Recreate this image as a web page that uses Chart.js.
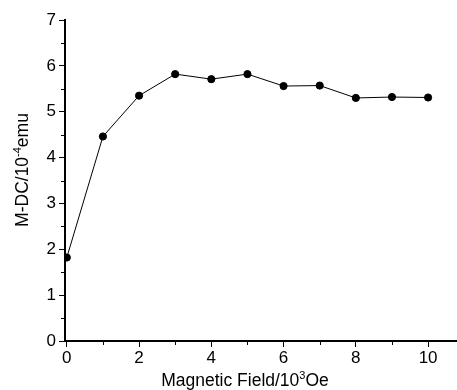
<!DOCTYPE html>
<html>
<head>
<meta charset="utf-8">
<script src="https://cdn.jsdelivr.net/npm/chart.js@4"></script>
<style>
  html, body { margin: 0; padding: 0; background: #fff; overflow: hidden; }
  #wrap { width: 457px; height: 390px; }
</style>
</head>
<body>
<div id="wrap"><canvas id="myChart"></canvas></div>
<script>
let field = [0, 1, 2, 3, 4, 5, 6, 7, 8, 9, 10];
let mdc = [1.82, 4.46, 5.35, 5.82, 5.71, 5.82, 5.56, 5.57, 5.30, 5.32, 5.31];
let xTicks = [0, 1, 2, 3, 4, 5, 6, 7, 8, 9, 10];
let yTicks = [0, 0.5, 1, 1.5, 2, 2.5, 3, 3.5, 4, 4.5, 5, 5.5, 6, 6.5, 7];

let fontFamily = "'Liberation Sans', Arial, sans-serif";

// short minor ticks, drawn from the scales' own tick positions
const minorTicks = {
    id: 'minorTicks',
    afterDraw(chart) {
        const ctx = chart.ctx;
        const xs = chart.scales.x, ys = chart.scales.y;
        ctx.save();
        ctx.strokeStyle = '#000';
        ctx.lineWidth = 1;
        ctx.beginPath();
        xs.ticks.forEach(t => {
            if (t.value % 2 !== 0) {
                let px = Math.round(xs.getPixelForValue(t.value)) + 0.5;
                ctx.moveTo(px, xs.top);
                ctx.lineTo(px, xs.top + 4);
            }
        });
        ys.ticks.forEach(t => {
            if (!Number.isInteger(t.value)) {
                let py = Math.round(ys.getPixelForValue(t.value)) + 0.5;
                ctx.moveTo(ys.right, py);
                ctx.lineTo(ys.right - 4, py);
            }
        });
        ctx.stroke();
        ctx.restore();
    }
};

// axis titles with real superscripts
function drawParts(ctx, parts, x, y) {
    let total = 0;
    parts.forEach(p => {
        ctx.font = (p.sup ? '11px ' : '17.5px ') + fontFamily;
        p.w = ctx.measureText(p.t).width;
        total += p.w;
    });
    let cx = x - total / 2;
    parts.forEach(p => {
        ctx.font = (p.sup ? '11px ' : '17.5px ') + fontFamily;
        ctx.fillText(p.t, cx, p.sup ? y - 7 : y);
        cx += p.w;
    });
}

const axisTitles = {
    id: 'axisTitles',
    afterDraw(chart) {
        const ctx = chart.ctx;
        ctx.save();
        ctx.fillStyle = '#000';
        ctx.textBaseline = 'alphabetic';
        ctx.textAlign = 'left';
        drawParts(ctx, [{t: 'Magnetic Field/10'}, {t: '3', sup: true}, {t: 'Oe'}], 245, 386);
        ctx.translate(28, 170);
        ctx.rotate(-Math.PI / 2);
        drawParts(ctx, [{t: 'M-DC/10'}, {t: '-4', sup: true}, {t: 'emu'}], 0, 0);
        ctx.restore();
    }
};

let ctx = document.getElementById('myChart').getContext('2d');
new Chart(ctx, {
    type: 'line',
    data: {
        datasets: [{
            data: field.map((f, i) => ({x: f, y: mdc[i]})),
            borderColor: '#000',
            backgroundColor: '#000',
            borderWidth: 1,
            pointRadius: 3.6,
            pointHoverRadius: 3.6,
            tension: 0,
            fill: false
        }]
    },
    options: {
        responsive: true,
        maintainAspectRatio: false,
        animation: false,
        layout: { autoPadding: false, padding: { top: 20, right: 0, left: 0, bottom: 0 } },
        plugins: {
            legend: { display: false },
            tooltip: { enabled: false }
        },
        scales: {
            x: {
                type: 'linear',
                min: -0.05,
                max: 10.8,
                afterBuildTicks: s => { s.ticks = xTicks.map(v => ({value: v})); },
                afterFit: s => { s.height = 49; s.paddingRight = 0; s.paddingLeft = 0; },
                border: { color: '#000', width: 2 },
                grid: {
                    drawOnChartArea: false,
                    tickLength: 6,
                    tickColor: c => (c.tick && c.tick.value % 2 === 0) ? '#000' : 'rgba(0,0,0,0)'
                },
                ticks: {
                    color: '#000',
                    padding: 1,
                    maxRotation: 0,
                    autoSkip: false,
                    font: { family: fontFamily, size: 17 },
                    callback: v => (v % 2 === 0 ? v : '')
                }
            },
            y: {
                min: 0,
                max: 7,
                afterBuildTicks: s => { s.ticks = yTicks.map(v => ({value: v})); },
                afterFit: s => { s.width = 65; s.paddingTop = 0; s.paddingBottom = 0; },
                border: { color: '#000', width: 2 },
                grid: {
                    drawOnChartArea: false,
                    tickLength: 6,
                    tickColor: c => (c.tick && Number.isInteger(c.tick.value)) ? '#000' : 'rgba(0,0,0,0)'
                },
                ticks: {
                    color: '#000',
                    padding: 3,
                    autoSkip: false,
                    font: { family: fontFamily, size: 17 },
                    callback: v => (Number.isInteger(v) ? v : '')
                }
            }
        }
    },
    plugins: [minorTicks, axisTitles]
});
</script>
</body>
</html>
